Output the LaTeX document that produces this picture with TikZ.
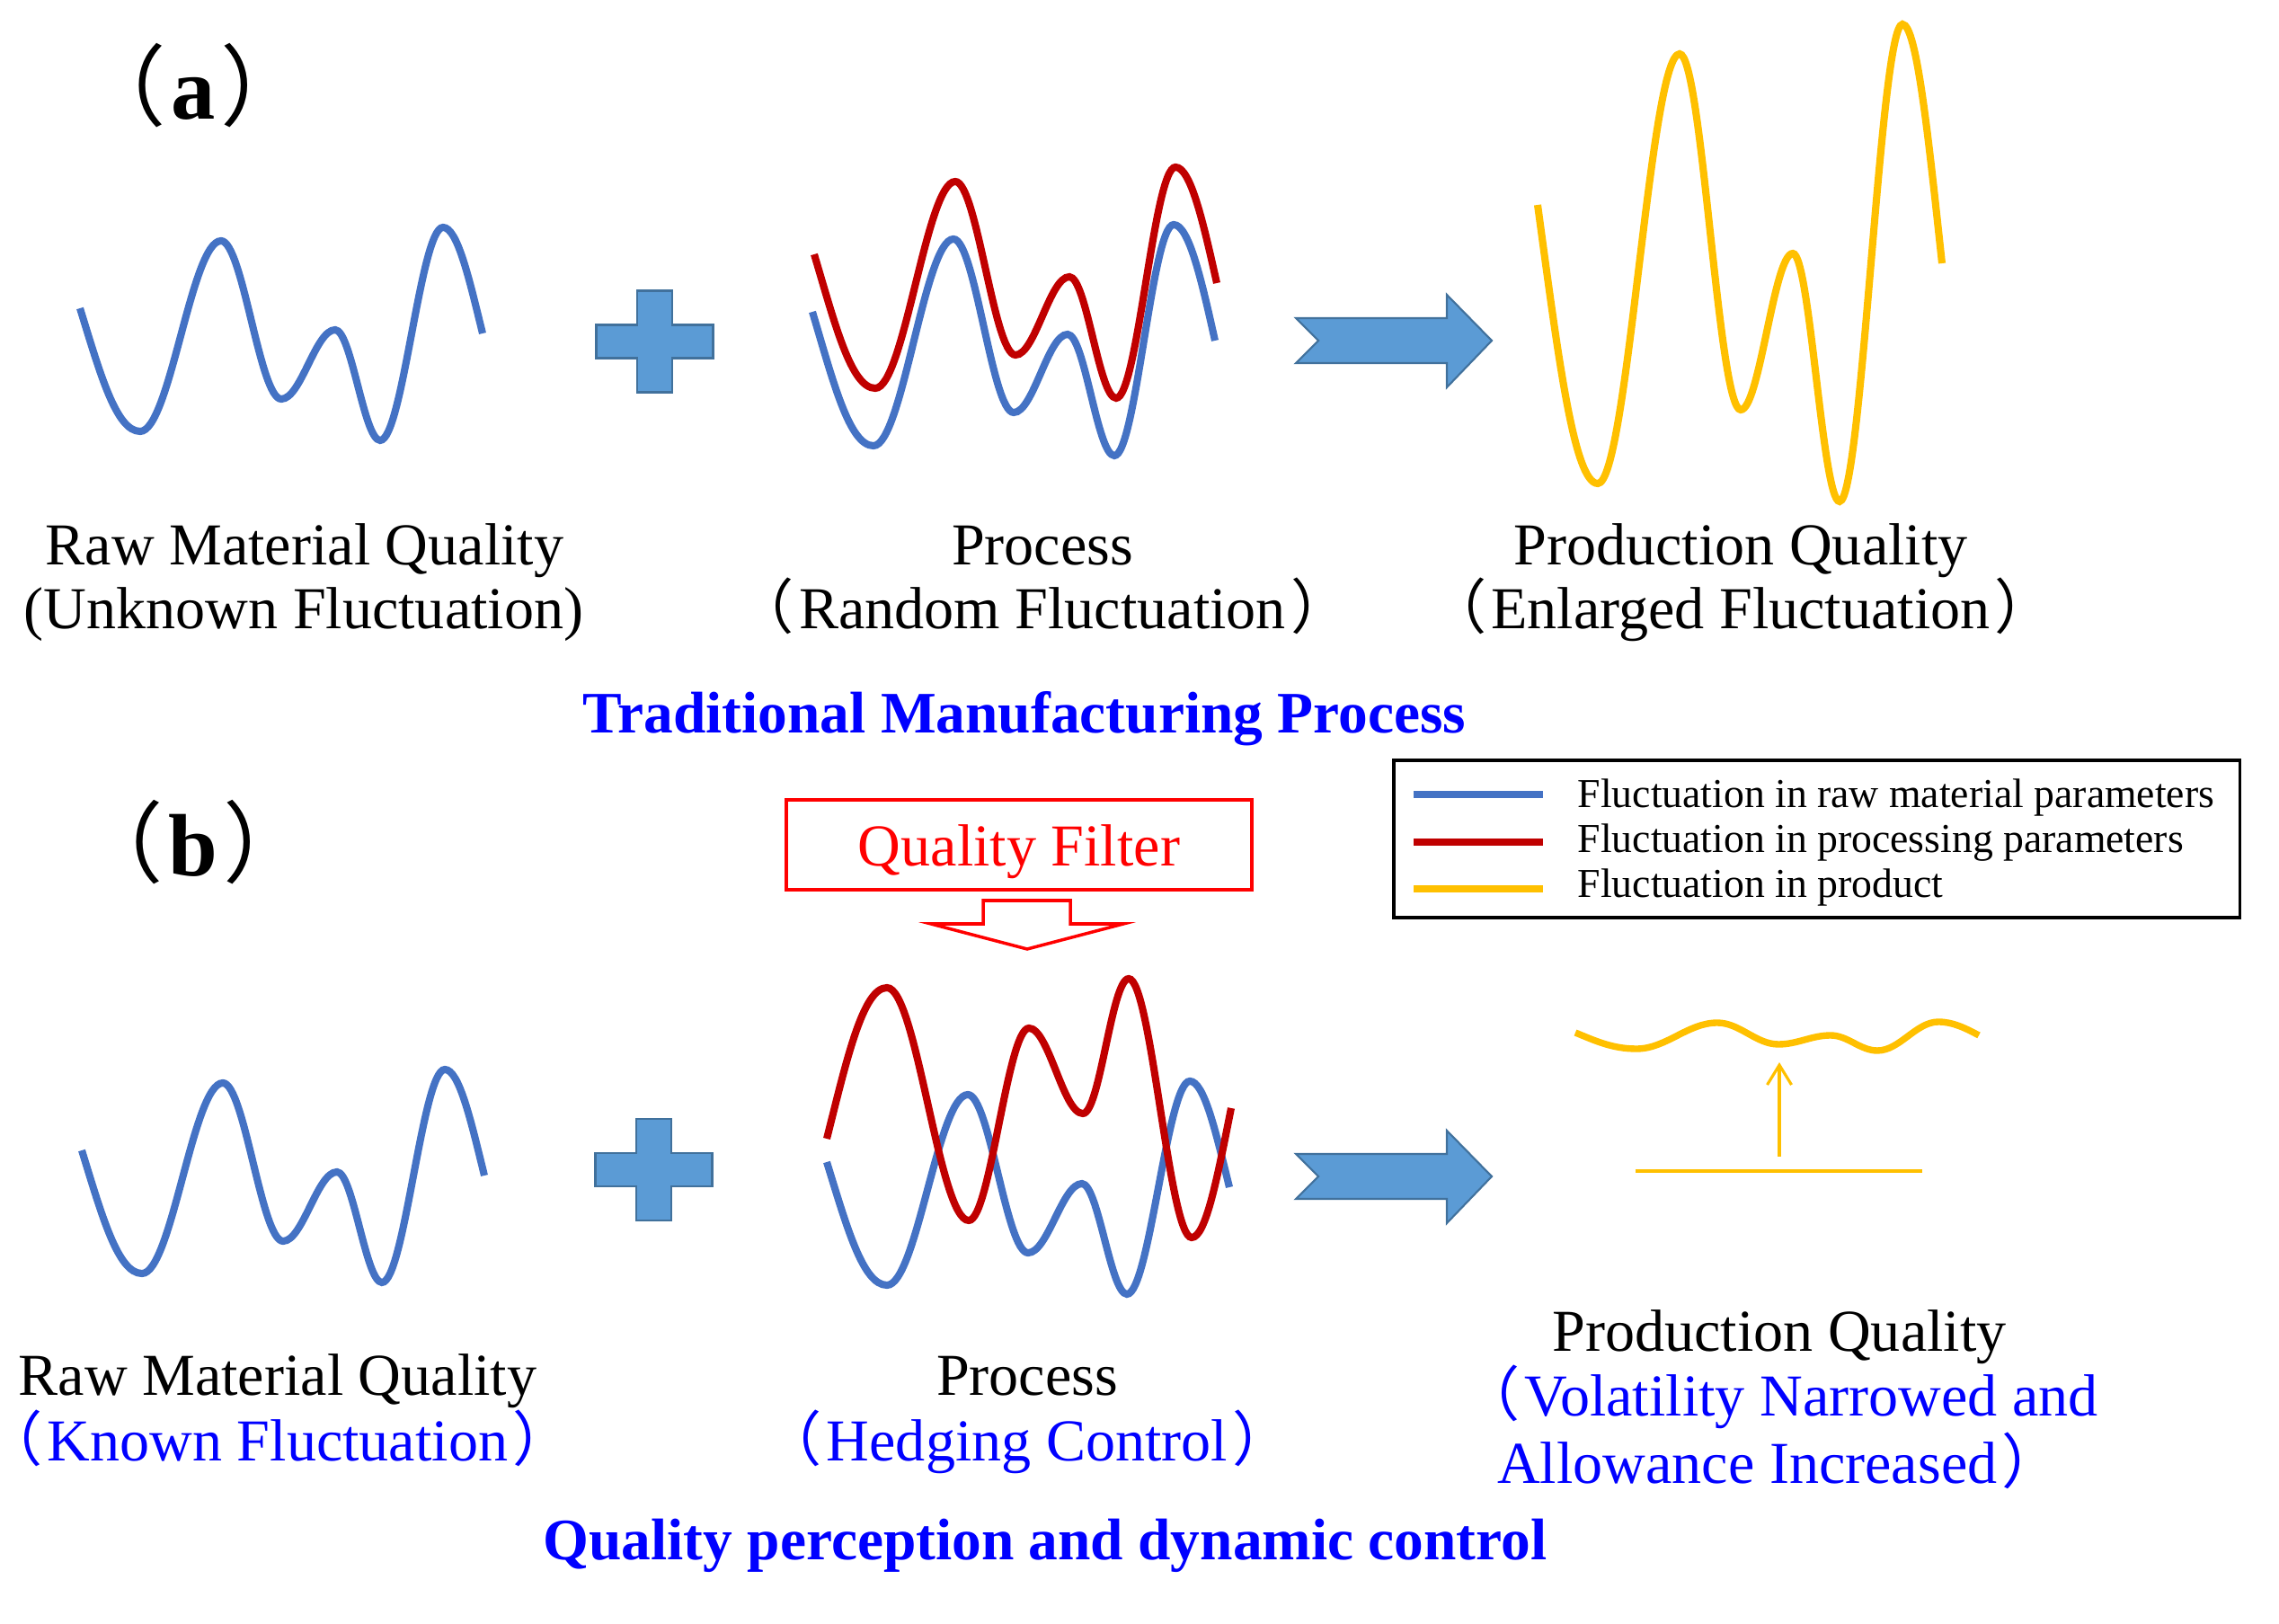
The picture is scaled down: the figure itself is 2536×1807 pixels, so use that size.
\documentclass[tikz,border=0pt]{standalone}
\usepackage{fontspec}
\setmainfont{Liberation Serif}
\newfontfamily\cjk{Noto Sans CJK SC}
\usetikzlibrary{arrows.meta}
\definecolor{cblue}{HTML}{4472C4}
\definecolor{cred}{HTML}{C00000}
\definecolor{cyel}{HTML}{FFC000}
\definecolor{sfill}{HTML}{5B9BD5}
\definecolor{sdraw}{HTML}{41719C}
\newcommand\rawwave{(89,343) .. controls +(22,71) and +(-27,0) .. (156,480)
 .. controls +(33,0) and +(-33,0) .. (246,268)
 .. controls +(24,0) and +(-24,0) .. (313,444)
 .. controls +(22,0) and +(-22,0) .. (373,367)
 .. controls +(18,0) and +(-18,0) .. (423,490)
 .. controls +(25,0) and +(-25,0) .. (493,253)
 .. controls +(16,0) and +(-15,-61) .. (537,371)}
\newcommand\procawave{(904,347) .. controls +(23,77) and +(-27,0) .. (972,496)
 .. controls +(32,0) and +(-32,0) .. (1061,266)
 .. controls +(24,0) and +(-24,0) .. (1128,459)
 .. controls +(22,0) and +(-22,0) .. (1188,372)
 .. controls +(19,0) and +(-19,0) .. (1240,507)
 .. controls +(24,0) and +(-24,0) .. (1306,250)
 .. controls +(17,0) and +(-15,-67) .. (1352,379)}
\newcommand\plusshape{(-19.5,-56.5) -- (19.5,-56.5) -- (19.5,-18.5) -- (65,-18.5) -- (65,18.5) -- (19.5,18.5) -- (19.5,56.5) -- (-19.5,56.5) -- (-19.5,18.5) -- (-65,18.5) -- (-65,-18.5) -- (-19.5,-18.5) -- cycle}
\newcommand\bigarrow{(1442,354) -- (1610,354) -- (1610,328) -- (1660,379) -- (1610,431) -- (1610,404) -- (1442,404) -- (1467,379) -- cycle}
\newcommand\lpar{{\mdseries\cjk （}\hspace{0.08em}}
\newcommand\rpar{\hspace{0.08em}{\mdseries\cjk ）}}
\newcommand\tlpar{{\mdseries\cjk （}\hspace{0.06em}}
\newcommand\trpar{\hspace{0.06em}{\mdseries\cjk ）}}
\begin{document}
\begin{tikzpicture}[x=0.01cm,y=-0.01cm,
  wave/.style={line width=2.3pt},
  shapeb/.style={fill=sfill,draw=sdraw,line width=0.6pt},
  lbl/.style={anchor=base,inner sep=0pt,font=\fontsize{18.8}{22}\selectfont},
  headlbl/.style={anchor=base,inner sep=0pt,text=blue,font=\fontsize{18.6}{22}\selectfont\bfseries},
  tag/.style={anchor=base,inner sep=6pt,font=\fontsize{28}{32}\selectfont\bfseries},
  leglbl/.style={anchor=base west,inner sep=0pt,font=\fontsize{13}{15}\selectfont},
  legline/.style={line width=2.2pt}]
\useasboundingbox (0,0) rectangle (2536,1807);

% ---------- panel (a) ----------
\node[tag] (taga) at (215,133) {\tlpar a\trpar};
\draw[wave,cblue] \rawwave;
\draw[shapeb,shift={(728.5,380)}] \plusshape;
\draw[wave,cblue] \procawave;
\draw[wave,cred,shift={(2,-64)}] \procawave;
\draw[shapeb] \bigarrow;
\draw[wave,cyel] (1711,228) .. controls +(22,161) and +(-27,0) .. (1778,538)
 .. controls +(33,0) and +(-33,0) .. (1869,60)
 .. controls +(25,0) and +(-25,0) .. (1937,456)
 .. controls +(21,0) and +(-21,0) .. (1995,282)
 .. controls +(19,0) and +(-19,0) .. (2047,558)
 .. controls +(25,0) and +(-25,0) .. (2117,27)
 .. controls +(16,0) and +(-15,-138) .. (2161,293);

\node[lbl] (rawa1) at (339,629) {Raw Material Quality};
\node[lbl] (rawa2) at (338,700) {(Unknown Fluctuation)};
\node[lbl] (proca1) at (1160,629) {Process};
\node[lbl] (proca2) at (1160,700) {\lpar Random Fluctuation\rpar};
\node[lbl] (proda1) at (1937,629) {Production Quality};
\node[lbl] (proda2) at (1937,700) {\lpar Enlarged Fluctuation\rpar};
\node[headlbl] (heada) at (1140,816) {Traditional Manufacturing Process};

% ---------- panel (b) ----------
\node[tag] (tagb) at (215,975) {\tlpar b\trpar};
\node[draw=red,line width=1pt,text=red,inner sep=0pt,minimum width=5.18cm,minimum height=1cm,
      text height=0.46cm,text depth=0cm,font=\fontsize{18.8}{22}\selectfont] (qf) at (1134,940) {Quality Filter};
\draw[red,line width=1pt] (1094,1002) -- (1191,1002) -- (1191,1028) -- (1250,1028) -- (1143,1056) -- (1036,1028) -- (1094,1028) -- cycle;

\node[draw=black,line width=1pt,minimum width=9.41cm,minimum height=1.75cm,inner sep=0pt] (legend) at (2021.5,933.5) {};
\draw[legline,cblue] (1573,884) -- (1717,884);
\draw[legline,cred] (1573,937) -- (1717,937);
\draw[legline,cyel] (1573,989) -- (1717,989);
\node[leglbl] (leg1) at (1755,899) {Fluctuation in raw material parameters};
\node[leglbl] (leg2) at (1755,949) {Fluctuation in processing parameters};
\node[leglbl] (leg3) at (1755,999) {Fluctuation in product};

\draw[wave,cblue,shift={(2,937)}] \rawwave;
\draw[shapeb,shift={(727.5,1301.5)}] \plusshape;
\draw[wave,cblue,shift={(831,950)}] \rawwave;
\draw[wave,cred] (920,1267) .. controls +(22,-87) and +(-27,0) .. (987,1099)
 .. controls +(33,0) and +(-33,0) .. (1078,1358)
 .. controls +(24,0) and +(-24,0) .. (1145,1144)
 .. controls +(22,0) and +(-22,0) .. (1205,1239)
 .. controls +(19,0) and +(-19,0) .. (1256,1089)
 .. controls +(25,0) and +(-25,0) .. (1326,1377)
 .. controls +(16,0) and +(-15,75) .. (1370,1233);
\draw[shapeb,shift={(0,930)}] \bigarrow;
\draw[line width=2.1pt,cyel] (1753,1149) .. controls +(22,9) and +(-27,0) .. (1821,1167)
 .. controls +(33,0) and +(-33,0) .. (1911,1138)
 .. controls +(25,0) and +(-25,0) .. (1979,1162)
 .. controls +(21,0) and +(-21,0) .. (2037,1152)
 .. controls +(19,0) and +(-19,0) .. (2089,1169)
 .. controls +(25,0) and +(-25,0) .. (2157,1137)
 .. controls +(16,0) and +(-15,-8) .. (2202,1152);
\coordinate (ya0) at (1980,1287);
\coordinate (ya1) at (1980,1182);
\draw[cyel,line width=0.9pt,-{Straight Barb[length=0.22cm,width=0.27cm]}] (ya0) -- (ya1);
\coordinate (bl0) at (1820,1303);
\coordinate (bl1) at (2139,1303);
\draw[cyel,line width=0.9pt] (bl0) -- (bl1);

\node[lbl] (rawb1) at (309,1552) {Raw Material Quality};
\node[lbl,text=blue] (rawb2) at (309,1625) {\lpar Known Fluctuation\rpar};
\node[lbl] (procb1) at (1143,1552) {Process};
\node[lbl,text=blue] (procb2) at (1143,1625) {\lpar Hedging Control\rpar};
\node[lbl] (prodb1) at (1980,1503) {Production Quality};
\node[lbl,text=blue] (prodb2) at (1980,1575) {\lpar Volatility Narrowed and};
\node[lbl,text=blue] (prodb3) at (1980,1650) {Allowance Increased\rpar};
\node[headlbl] (headb) at (1163,1735) {Quality perception and dynamic control};
\end{tikzpicture}
\end{document}
